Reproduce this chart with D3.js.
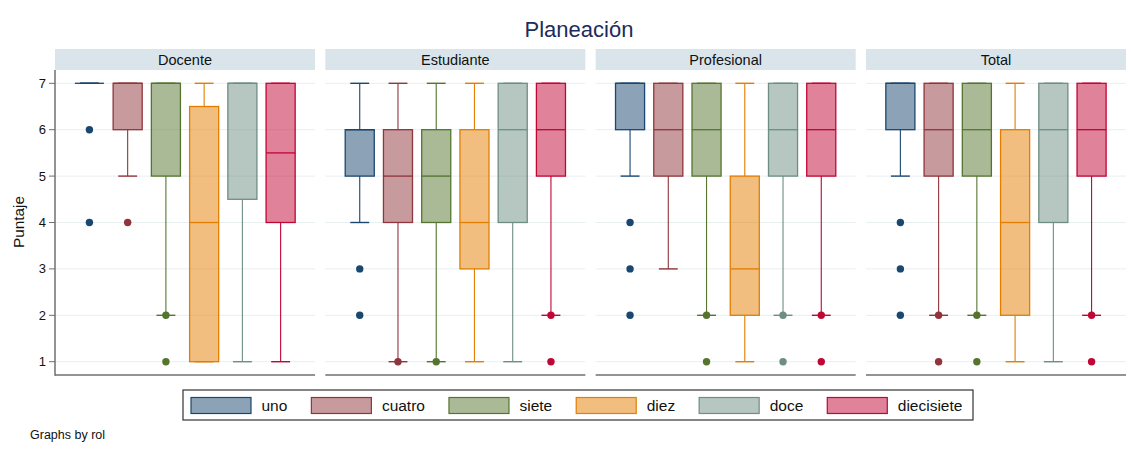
<!DOCTYPE html>
<html>
<head>
<meta charset="utf-8">
<script src="https://cdn.jsdelivr.net/npm/d3@7"></script>
<style>
  html, body { margin: 0; padding: 0; background: #ffffff; }
  svg { display: block; font-family: "Liberation Sans", Arial, Helvetica, sans-serif; }
</style>
</head>
<body>
<svg id="chart" width="1131" height="451"></svg>
<script>
// Groups (facets) and series
const panels = ["Docente", "Estudiante", "Profesional", "Total"];
const series = ["uno", "cuatro", "siete", "diez", "doce", "diecisiete"];
const lineColors = ["#1a476f", "#90353b", "#55752f", "#e37e00", "#6e8e84", "#c10534"];
const yTicks = [1, 2, 3, 4, 5, 6, 7];

// Box statistics per series: [lower adjacent, q1, median, q3, upper adjacent]
const docenteStats = [[7, 7, 7, 7, 7], [5, 6, 7, 7, 7], [2, 5, 7, 7, 7], [1, 1, 4, 6.5, 7], [1, 4.5, 7, 7, 7], [1, 4, 5.5, 7, 7]];
const estudianteStats = [[4, 5, 6, 6, 7], [1, 4, 5, 6, 7], [1, 4, 5, 6, 7], [1, 3, 4, 6, 7], [1, 4, 6, 7, 7], [2, 5, 6, 7, 7]];
const profesionalStats = [[5, 6, 7, 7, 7], [3, 5, 6, 7, 7], [2, 5, 6, 7, 7], [1, 2, 3, 5, 7], [2, 5, 6, 7, 7], [2, 5, 6, 7, 7]];
const totalStats = [[5, 6, 7, 7, 7], [2, 5, 6, 7, 7], [2, 5, 6, 7, 7], [1, 2, 4, 6, 7], [1, 4, 6, 7, 7], [2, 5, 6, 7, 7]];

// Outside values per series
const docenteOutliers = [[6, 4], [4], [2, 1], [], [], []];
const estudianteOutliers = [[3, 2], [1], [1], [], [], [2, 1]];
const profesionalOutliers = [[4, 3, 2], [], [2, 1], [], [2, 1], [2, 1]];
const totalOutliers = [[4, 3, 2], [2, 1], [2, 1], [], [], [2, 1]];

const stats = [docenteStats, estudianteStats, profesionalStats, totalStats];
const outliers = [docenteOutliers, estudianteOutliers, profesionalOutliers, totalOutliers];

const svg = d3.select("#chart");

// Title
svg.append("text")
  .attr("x", 579).attr("y", 37)
  .attr("text-anchor", "middle")
  .attr("font-size", 22)
  .attr("fill", "#1c2c5c")
  .text("Planeación");

// Scales
const px = d3.scaleBand().domain(panels).range([55, 1126]).paddingInner(0.038);
const bx = d3.scaleBand().domain(series).range([0, px.bandwidth()]).paddingInner(0.24).paddingOuter(0.52);
const color = d3.scaleOrdinal().domain(series).range(lineColors);
const y = d3.scaleLinear().domain([1, 7]).range([361.7, 83.3]);

const plotTop = 70, plotBottom = 375;
const stripTop = 49, stripH = 21;

panels.forEach((p, pi) => {
  const g = svg.append("g").attr("transform", `translate(${px(p)},0)`);
  const w = px.bandwidth();

  // strip header
  g.append("rect").attr("x", 0).attr("y", stripTop).attr("width", w).attr("height", stripH)
    .attr("fill", "#d9e5eb");
  g.append("text").attr("x", w / 2).attr("y", 64.5)
    .attr("text-anchor", "middle").attr("font-size", 14.5).attr("fill", "#111")
    .text(p);

  // gridlines
  g.selectAll("line.grid").data(yTicks).enter().append("line")
    .attr("class", "grid")
    .attr("x1", 0).attr("x2", w)
    .attr("y1", d => y(d)).attr("y2", d => y(d))
    .attr("stroke", "#e8eff1").attr("stroke-width", 1);

  // bottom axis line
  g.append("line").attr("x1", 0).attr("x2", w)
    .attr("y1", plotBottom).attr("y2", plotBottom)
    .attr("stroke", "#6f6f6f").attr("stroke-width", 1.5);

  const bw = bx.bandwidth();
  const capW = bw * 0.65;

  series.forEach((s, si) => {
    const [lo, q1, med, q3, hi] = stats[pi][si];
    const c = color(s);
    const cx = bx(s) + bw / 2;
    const bg = g.append("g");

    // whiskers
    bg.append("line").attr("x1", cx).attr("x2", cx).attr("y1", y(q1)).attr("y2", y(lo))
      .attr("stroke", c).attr("stroke-width", 1.1);
    bg.append("line").attr("x1", cx).attr("x2", cx).attr("y1", y(q3)).attr("y2", y(hi))
      .attr("stroke", c).attr("stroke-width", 1.1);
    // caps
    [lo, hi].forEach(v => {
      bg.append("line").attr("x1", cx - capW / 2).attr("x2", cx + capW / 2)
        .attr("y1", y(v)).attr("y2", y(v))
        .attr("stroke", c).attr("stroke-width", 1.4);
    });
    // box
    bg.append("rect")
      .attr("x", bx(s)).attr("width", bw)
      .attr("y", y(q3)).attr("height", Math.max(0, y(q1) - y(q3)))
      .attr("fill", c).attr("fill-opacity", 0.5)
      .attr("stroke", c).attr("stroke-width", 1.3);
    // median
    bg.append("line").attr("x1", bx(s)).attr("x2", bx(s) + bw)
      .attr("y1", y(med)).attr("y2", y(med))
      .attr("stroke", c).attr("stroke-width", 1.3);
    // outside values
    bg.selectAll("circle").data(outliers[pi][si]).enter().append("circle")
      .attr("cx", cx).attr("cy", d => y(d)).attr("r", 3.7)
      .attr("fill", c);
  });

  if (pi === 0) {
    // y axis
    g.append("line").attr("x1", 0).attr("x2", 0).attr("y1", plotTop).attr("y2", plotBottom + 0.75)
      .attr("stroke", "#6f6f6f").attr("stroke-width", 1.5);
    const ax = g.append("g");
    ax.selectAll("line.tick").data(yTicks).enter().append("line")
      .attr("x1", -6).attr("x2", 0)
      .attr("y1", d => y(d)).attr("y2", d => y(d))
      .attr("stroke", "#6f6f6f").attr("stroke-width", 1);
    ax.selectAll("text").data(yTicks).enter().append("text")
      .attr("x", -9).attr("y", d => y(d))
      .attr("dy", "0.35em")
      .attr("text-anchor", "end").attr("font-size", 13).attr("fill", "#111")
      .text(d => d);
  }
});

// y axis title
svg.append("text")
  .attr("transform", "translate(23.5,222) rotate(-90)")
  .attr("text-anchor", "middle")
  .attr("font-size", 15.3).attr("fill", "#111")
  .text("Puntaje");

// legend
const legend = svg.append("g");
legend.append("rect").attr("x", 183).attr("y", 390).attr("width", 790).attr("height", 30)
  .attr("fill", "#fff").attr("stroke", "#333").attr("stroke-width", 1.2);
let lx = 191;
series.forEach(s => {
  const c = color(s);
  legend.append("rect").attr("x", lx).attr("y", 397.5).attr("width", 60).attr("height", 16)
    .attr("fill", c).attr("fill-opacity", 0.5).attr("stroke", c).attr("stroke-width", 1.2);
  const t = legend.append("text").attr("x", lx + 70.5).attr("y", 411)
    .attr("font-size", 15.5).attr("fill", "#111").text(s);
  lx = lx + 70.5 + t.node().getComputedTextLength() + 24;
});

// note
svg.append("text").attr("x", 30).attr("y", 438.5)
  .attr("font-size", 12.5).attr("fill", "#111")
  .text("Graphs by rol");
</script>
</body>
</html>
